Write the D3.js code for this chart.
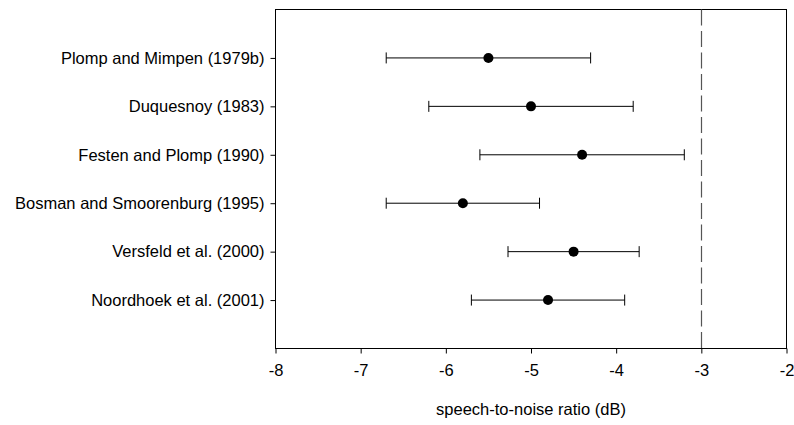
<!DOCTYPE html>
<html>
<head>
<meta charset="utf-8">
<script src="https://cdn.jsdelivr.net/npm/d3@7"></script>
<style>
  html, body { margin: 0; padding: 0; background: #fff; }
  svg { display: block; }
  text { font-family: "Liberation Sans", Arial, sans-serif; }
</style>
</head>
<body>
<svg id="chart" width="794" height="425"></svg>
<script>
const studies = [
  "Plomp and Mimpen (1979b)",
  "Duquesnoy (1983)",
  "Festen and Plomp (1990)",
  "Bosman and Smoorenburg (1995)",
  "Versfeld et al. (2000)",
  "Noordhoek et al. (2001)"
];
const means = [-5.5, -5.0, -4.4, -5.8, -4.5, -4.8];
const lows  = [-6.7, -6.2, -5.6, -6.7, -5.27, -5.7];
const highs = [-4.3, -3.8, -3.2, -4.9, -3.73, -3.9];
const xTicks = [-8, -7, -6, -5, -4, -3, -2];
const refLine = -3;
const xTitle = "speech-to-noise ratio (dB)";

const svg = d3.select("#chart");
const pLeft = 275.5, pRight = 786.5, pTop = 9.5, pBottom = 348.5;
const fs = 16.5;

const x = d3.scaleLinear().domain([-8, -2]).range([pLeft, pRight]);
const y = d3.scaleLinear().domain([0, studies.length + 1]).range([pTop, pBottom]);

const data = studies.map((s, i) => ({ name: s, pos: i + 1, mean: means[i], lo: lows[i], hi: highs[i] }));

// frame
svg.append("rect")
  .attr("x", pLeft).attr("y", pTop)
  .attr("width", pRight - pLeft).attr("height", pBottom - pTop)
  .attr("fill", "none").attr("stroke", "#000").attr("stroke-width", 1);

// reference dashed line
svg.append("line")
  .attr("x1", Math.round(x(refLine)) + 0.5).attr("x2", Math.round(x(refLine)) + 0.5)
  .attr("y1", pTop).attr("y2", pBottom)
  .attr("stroke", "#555").attr("stroke-width", 1.2)
  .attr("stroke-dasharray", "16,5.5");

// x axis
const xAxis = d3.axisBottom(x).tickValues(xTicks).tickSize(5).tickPadding(11)
  .tickFormat(d => d3.format("d")(d).replace("−", "-"));
const gx = svg.append("g").attr("transform", `translate(0,${pBottom})`).call(xAxis);
gx.select(".domain").remove();
gx.selectAll("line").attr("stroke", "#000");
gx.selectAll("text").attr("font-size", fs).attr("fill", "#000")
  .attr("font-family", "'Liberation Sans', Arial, sans-serif");

// y axis
const yAxis = d3.axisLeft(y).tickValues(data.map(d => d.pos)).tickSize(5).tickPadding(6)
  .tickFormat(d => studies[d - 1]);
const gy = svg.append("g").attr("transform", `translate(${pLeft},0)`).call(yAxis);
gy.select(".domain").remove();
gy.selectAll("line").attr("stroke", "#000");
gy.selectAll("text").attr("font-size", fs).attr("fill", "#000")
  .attr("font-family", "'Liberation Sans', Arial, sans-serif");

// axis title
svg.append("text")
  .attr("x", (pLeft + pRight) / 2).attr("y", 415)
  .attr("text-anchor", "middle").attr("font-size", fs).attr("fill", "#000")
  .text(xTitle);

// error bars
const g = svg.append("g");
const rows = g.selectAll("g.row").data(data).join("g").attr("class", "row");
rows.append("line")
  .attr("x1", d => x(d.lo)).attr("x2", d => x(d.hi))
  .attr("y1", d => y(d.pos)).attr("y2", d => y(d.pos))
  .attr("stroke", "#000").attr("stroke-width", 1);
rows.append("line")
  .attr("x1", d => x(d.lo)).attr("x2", d => x(d.lo))
  .attr("y1", d => y(d.pos) - 5.5).attr("y2", d => y(d.pos) + 5.5)
  .attr("stroke", "#000").attr("stroke-width", 1);
rows.append("line")
  .attr("x1", d => x(d.hi)).attr("x2", d => x(d.hi))
  .attr("y1", d => y(d.pos) - 5.5).attr("y2", d => y(d.pos) + 5.5)
  .attr("stroke", "#000").attr("stroke-width", 1);
rows.append("circle")
  .attr("cx", d => x(d.mean)).attr("cy", d => y(d.pos))
  .attr("r", 5).attr("fill", "#000");
</script>
</body>
</html>
